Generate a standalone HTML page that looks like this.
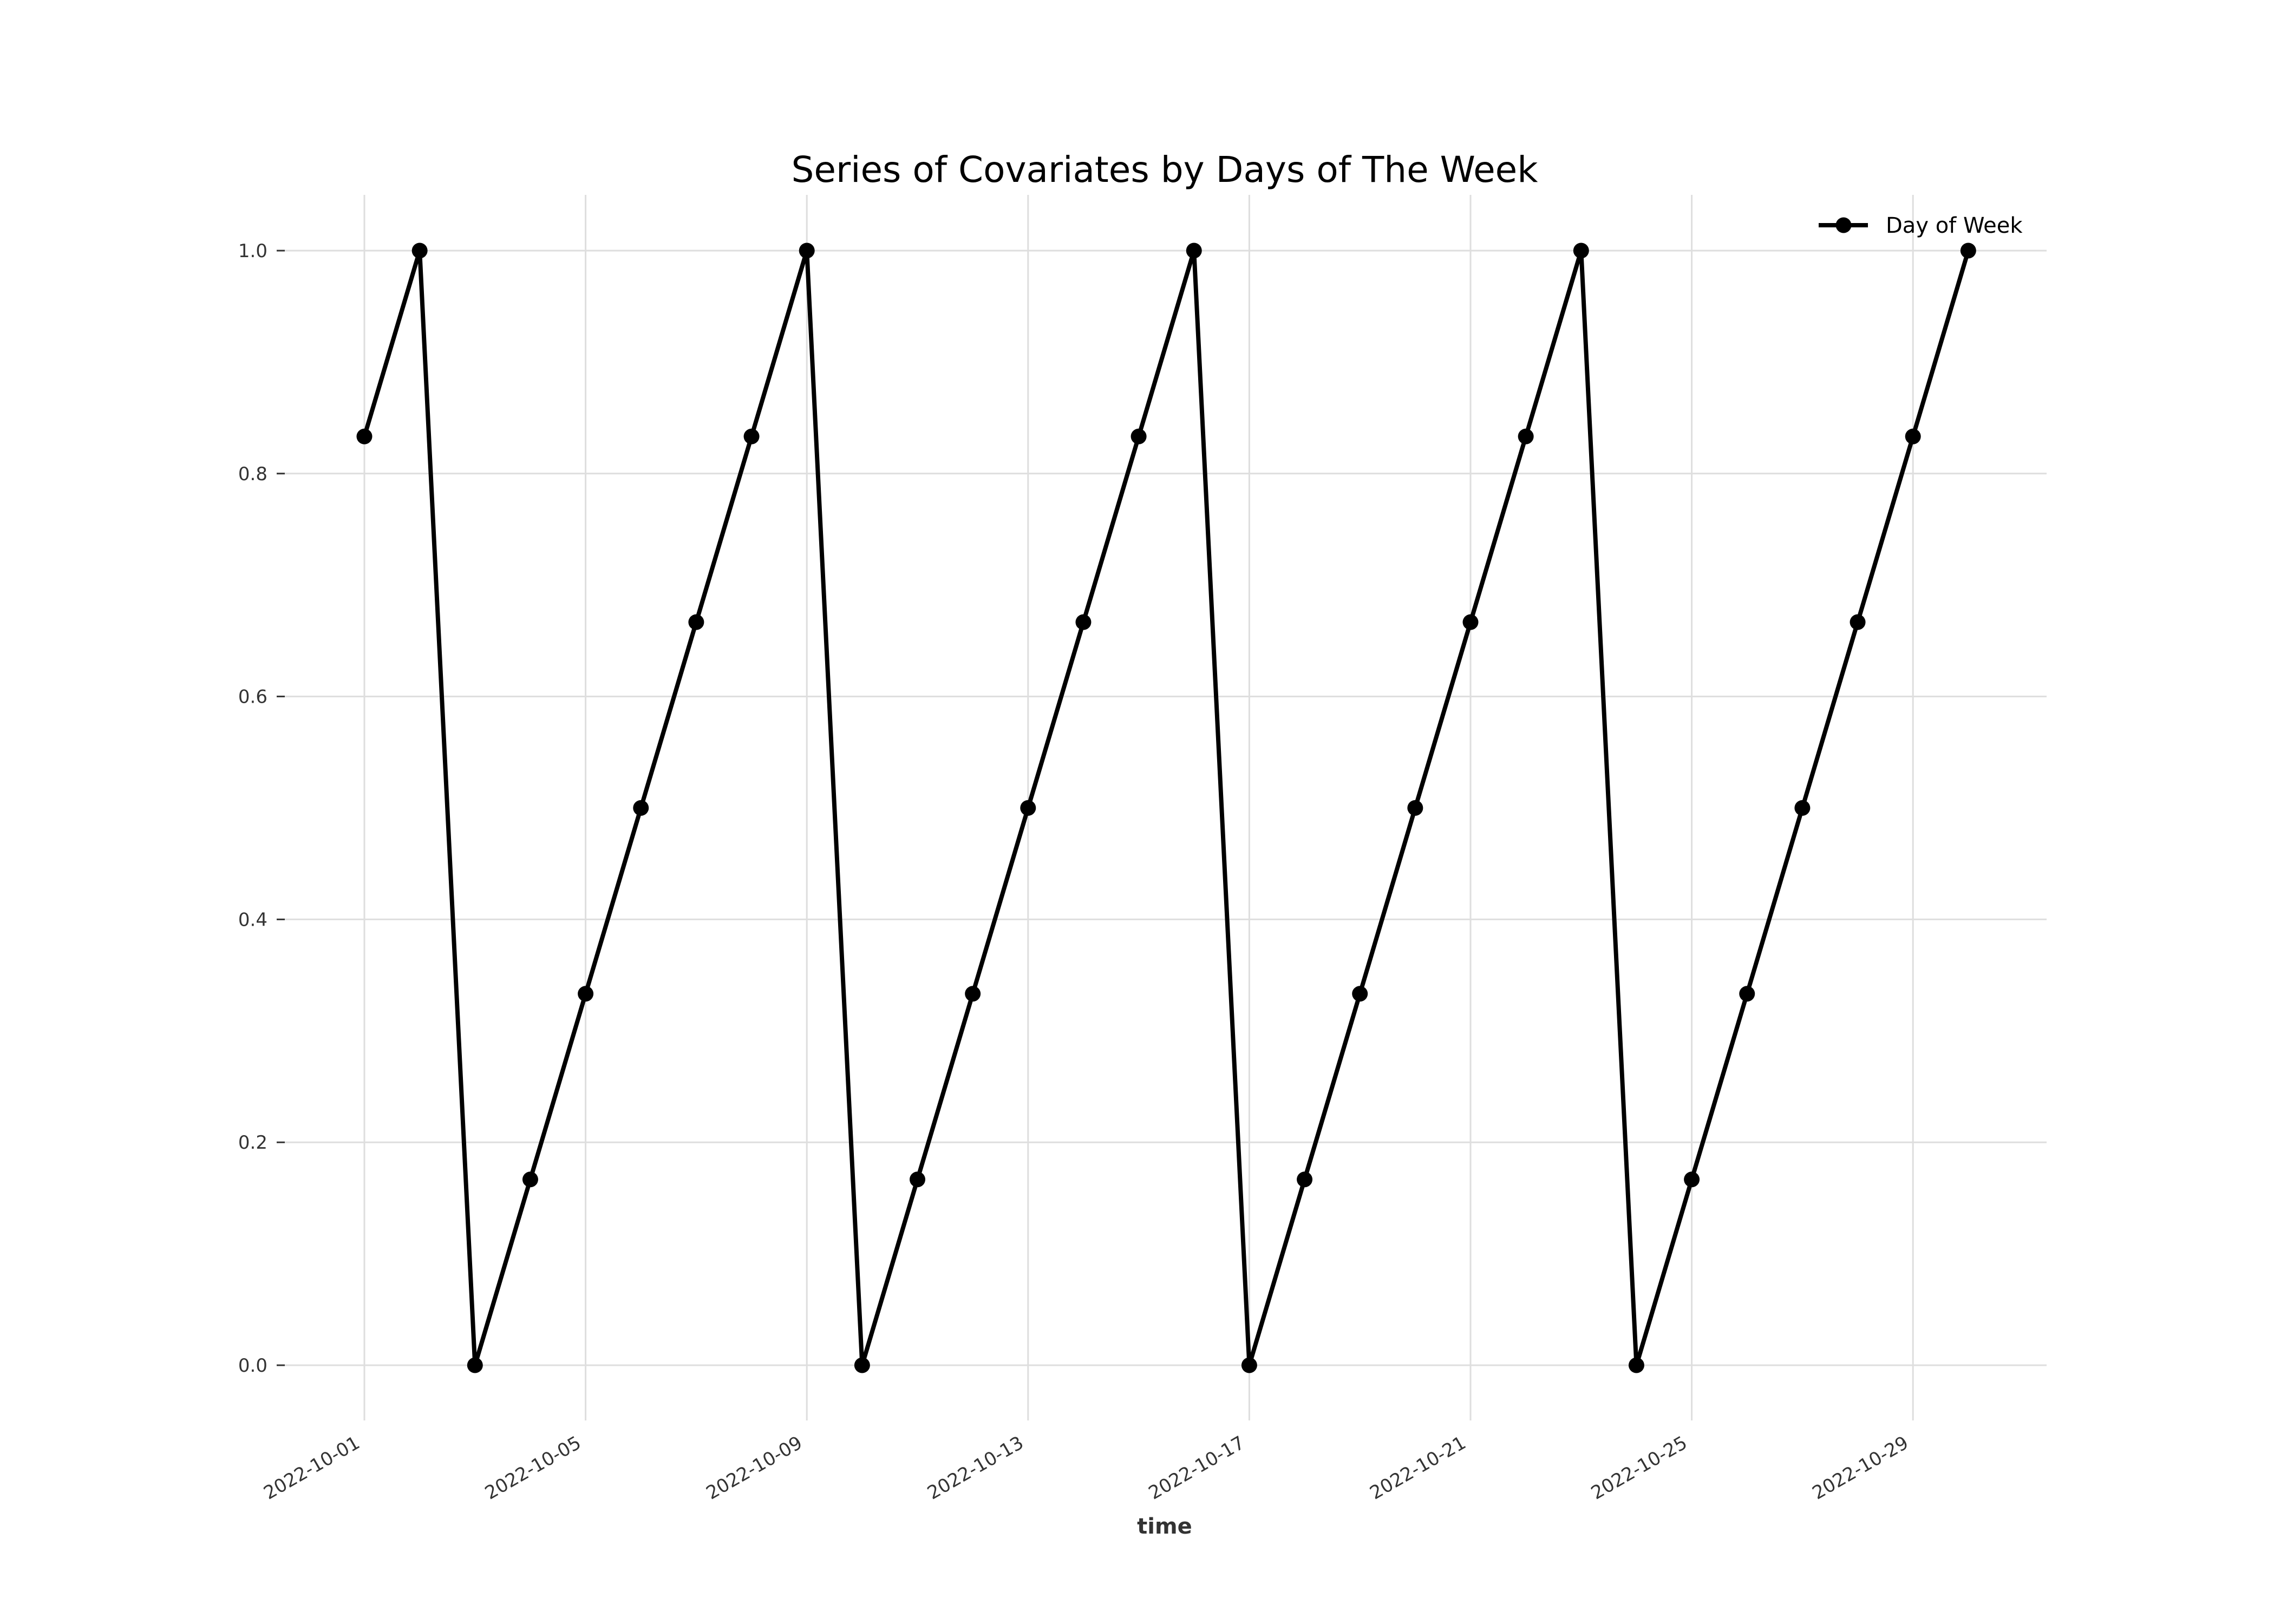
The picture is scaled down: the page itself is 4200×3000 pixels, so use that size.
<!DOCTYPE html>
<html><head><meta charset="utf-8"><style>
html,body{margin:0;padding:0;background:#fff}
svg{display:block}
text{font-family:"DejaVu Sans","Liberation Sans",sans-serif}
</style></head><body>
<svg id="chart" width="4200" height="3000" viewBox="0 0 4200 3000" xmlns="http://www.w3.org/2000/svg">
<rect width="4200" height="3000" fill="#fff"/>
<text x="2151" y="336" font-size="66" text-anchor="middle" fill="#000">Series of Covariates by Days of The Week</text>
<g id="grid"></g>
<g id="axes"></g>
<g id="series"></g>
<text x="2151" y="2833" font-size="40" font-weight="bold" text-anchor="middle" fill="#333">time</text>
<g>
<line x1="3359" y1="416" x2="3450" y2="416" stroke="#000" stroke-width="8"/>
<circle cx="3405" cy="416" r="14.5" fill="#000"/>
<text x="3483" y="430" font-size="40" fill="#000">Day of Week</text>
</g>
</svg>
<script>
const days = [1,2,3,4,5,6,7,8,9,10,11,12,13,14,15,16,17,18,19,20,21,22,23,24,25,26,27,28,29,30];
const values = [0.8333,1,0,0.1667,0.3333,0.5,0.6667,0.8333,1,0,0.1667,0.3333,0.5,0.6667,0.8333,1,0,0.1667,0.3333,0.5,0.6667,0.8333,1,0,0.1667,0.3333,0.5,0.6667,0.8333,1];
const xTickDays = [1,5,9,13,17,21,25,29];
const xTickLabels = ["2022-10-01","2022-10-05","2022-10-09","2022-10-13","2022-10-17","2022-10-21","2022-10-25","2022-10-29"];
const yTicks = [0,0.2,0.4,0.6,0.8,1.0];
const yTickLabels = ["0.0","0.2","0.4","0.6","0.8","1.0"];

const NS = "http://www.w3.org/2000/svg";
const X0 = 673, DX = 102.15, Y0 = 2522, Y1 = 463;
const L = 526, R = 3780, T = 360, B = 2624;
function xs(d){ return X0 + (d - 1) * DX; }
function ys(v){ return Y0 + (Y1 - Y0) * v; }
function mk(tag, attrs, parent){ const e = document.createElementNS(NS, tag); for (const k in attrs) e.setAttribute(k, attrs[k]); parent.appendChild(e); return e; }

const grid = document.getElementById('grid');
const axes = document.getElementById('axes');
const series = document.getElementById('series');

yTicks.forEach((t, i) => {
  const y = ys(t);
  const g = mk('line', {x1: L, x2: R, y1: y, y2: y, stroke: '#dedede', 'stroke-width': 3}, grid);
  
  
  const tk = mk('line', {x1: 511, x2: 526, y1: y, y2: y, stroke: '#333', 'stroke-width': 3}, axes);
  
  
  const tx = mk('text', {x: 494, y: y + 12, 'font-size': 34, 'text-anchor': 'end', fill: '#333'}, axes);
  tx.textContent = yTickLabels[i];
  
  
});
xTickDays.forEach((d, i) => {
  const x = xs(d);
  const g = mk('line', {x1: x, x2: x, y1: T, y2: B, stroke: '#dedede', 'stroke-width': 3}, grid);
  
  
  const tx = mk('text', {x: 0, y: 0, 'font-size': 34, 'text-anchor': 'end', fill: '#333',
    transform: `translate(${x - 6},${2672}) rotate(-30)`}, axes);
  tx.textContent = xTickLabels[i];
  
  
});

const pts = days.map((d, i) => xs(d) + ',' + ys(values[i])).join(' ');
const pl = mk('polyline', {points: pts, fill: 'none', stroke: '#000', 'stroke-width': 8, 'stroke-linejoin': 'round'}, series);


days.forEach((d, i) => {
  const c = mk('circle', {cx: xs(d), cy: ys(values[i]), r: 14.5, fill: '#000'}, series);
  
  
});
</script>
</body></html>
